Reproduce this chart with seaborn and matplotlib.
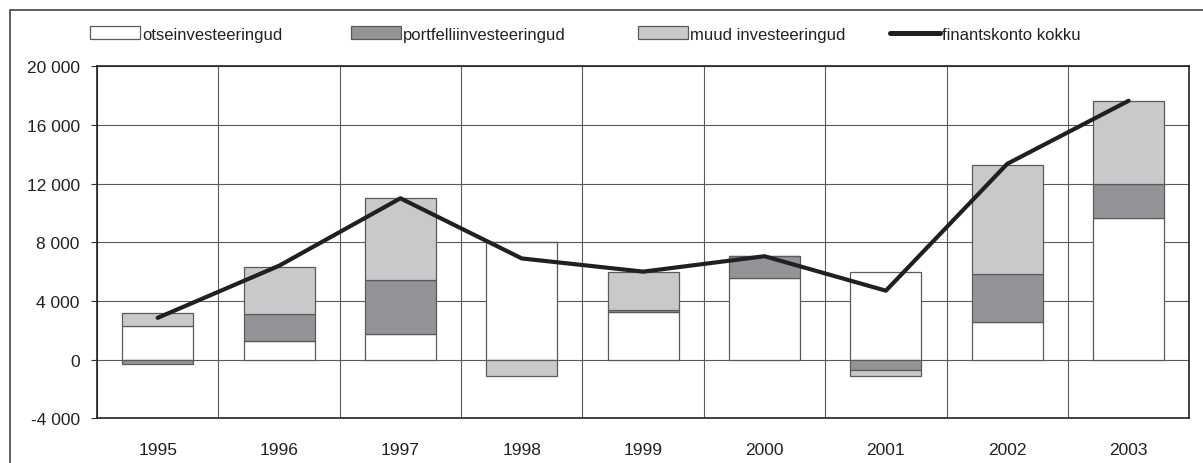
import numpy as np
import matplotlib.pyplot as plt
import seaborn as sns
from matplotlib.patches import Rectangle, Patch
from matplotlib.lines import Line2D
from matplotlib.ticker import FuncFormatter, MultipleLocator

# data
years = ['1995', '1996', '1997', '1998', '1999', '2000', '2001', '2002', '2003']
otse = [2300, 1300, 1750, 8000, 3250, 5550, 6000, 2600, 9650]
portfell = [-300, 1800, 3700, 0, 150, 1500, -700, 3250, 2300]
muud = [850, 3250, 5550, -1100, 2600, 0, -400, 7450, 5700]
kokku = [2850, 6400, 11000, 6900, 6000, 7050, 4700, 13350, 17650]

series_names = ['otseinvesteeringud', 'portfelliinvesteeringud', 'muud investeeringud']
line_name = 'finantskonto kokku'

bar_colors = ['#ffffff', '#939498', '#c8c9cb']
edge = '#5a5a5a'
line_color = '#231f20'

sns.set_theme(style="white")
plt.rcParams['font.family'] = ['Liberation Sans', 'DejaVu Sans']

W, H = 1203, 464
fig = plt.figure(figsize=(W / 100, H / 100), dpi=100)
ax = fig.add_axes([97 / W, (H - 419.3) / H, (1189.3 - 97) / W, (419.3 - 67.3) / H])

# stacked bars: positives stack upward, negatives downward
pos = np.zeros(len(years))
neg = np.zeros(len(years))
for vals, col in zip([otse, portfell, muud], bar_colors):
    vals = np.array(vals, dtype=float)
    bottom = np.where(vals >= 0, pos, neg)
    sns.barplot(x=years, y=vals, bottom=bottom, color=col, saturation=1,
                width=0.585, edgecolor=edge, linewidth=0.9, errorbar=None, ax=ax)
    pos += np.clip(vals, 0, None)
    neg += np.clip(vals, None, 0)

sns.lineplot(x=years, y=kokku, color=line_color, linewidth=3.0, sort=False,
             ax=ax, zorder=5)

# axes
ax.set_xlim(-0.5, 8.5)
ax.set_ylim(-4000, 20000)
ax.yaxis.set_major_locator(MultipleLocator(4000))
ax.yaxis.set_major_formatter(FuncFormatter(lambda v, p: f"{int(v):,}".replace(',', ' ')))
ax.set_xticks(np.arange(-0.5, 9, 1), minor=True)
ax.set_axisbelow(True)
ax.grid(axis='y', which='major', color='#5a5a5a', lw=0.8)
ax.grid(axis='x', which='minor', color='#5a5a5a', lw=0.8)
ax.grid(axis='x', which='major', visible=False)
ax.tick_params(axis='x', which='both', length=0, pad=17, labelsize=12.5, labelcolor='#222')
ax.tick_params(axis='y', left=True, length=4.5, width=0.8, color='#333', pad=8,
               labelsize=12.5, labelcolor='#222', direction='out')
for s in ax.spines.values():
    s.set_visible(True)
    s.set_color('#222')
    s.set_linewidth(1.2)
ax.set_xlabel('')
ax.set_ylabel('')

# legend entries placed like the original
handles = [Patch(facecolor=c, edgecolor=edge, linewidth=0.9) for c in bar_colors]
handles.append(Line2D([], [], color=line_color, linewidth=3.6))
labels = series_names + [line_name]
x_starts = [90, 351, 638, 890]
for h, lab, x0 in zip(handles, labels, x_starts):
    fig.legend(handles=[h], labels=[lab], loc='center left',
               bbox_to_anchor=(x0 / W, (H - 35) / H), frameon=False,
               borderpad=0, borderaxespad=0, handlelength=3.0, handleheight=0.78,
               handletextpad=0.12, fontsize=12, labelcolor='#222')

# outer chart frame
fig.add_artist(Rectangle((10 / W, -0.1), 2, (H - 11) / H + 0.1,
                         transform=fig.transFigure, fill=False,
                         edgecolor='#333', linewidth=1.1))

fig.savefig('out.png', dpi=100)
